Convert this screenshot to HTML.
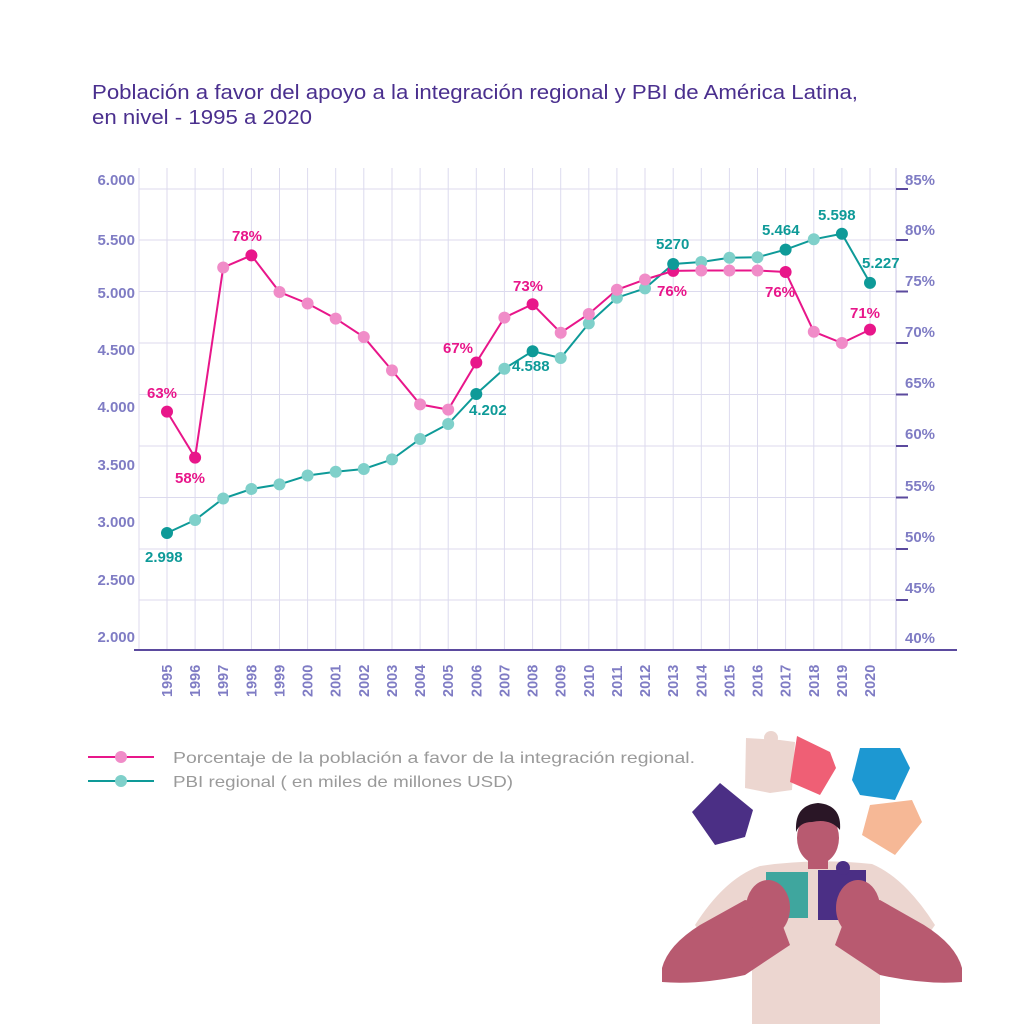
<!DOCTYPE html>
<html><head><meta charset="utf-8"><style>
html,body{margin:0;padding:0;background:#fff}
svg{display:block}
text{font-family:"Liberation Sans",sans-serif}
.yl{fill:#7f7cc4;font-size:15px;font-weight:bold}
.yr{fill:#7f7cc4;font-size:15px;font-weight:bold}
.xl{fill:#7f7cc4;font-size:14.5px;font-weight:bold}
.pk{fill:#e8168a;font-size:15px;font-weight:bold}
.tl{fill:#0e9a98;font-size:15px;font-weight:bold}
</style></head><body>
<svg width="1024" height="1024" viewBox="0 0 1024 1024" xmlns="http://www.w3.org/2000/svg">
<text x="92" y="99" font-size="20" fill="#4a2f8e" textLength="766" lengthAdjust="spacingAndGlyphs">Población a favor del apoyo a la integración regional y PBI de América Latina,</text>
<text x="92" y="124" font-size="20" fill="#4a2f8e" textLength="220" lengthAdjust="spacingAndGlyphs">en nivel - 1995 a 2020</text>

<g stroke="#dcdaee" stroke-width="1">
<line x1="139" y1="189" x2="896" y2="189"/><line x1="139" y1="240" x2="896" y2="240"/>
<line x1="139" y1="291.5" x2="896" y2="291.5"/><line x1="139" y1="343" x2="896" y2="343"/>
<line x1="139" y1="394.5" x2="896" y2="394.5"/><line x1="139" y1="446" x2="896" y2="446"/>
<line x1="139" y1="497.5" x2="896" y2="497.5"/><line x1="139" y1="549" x2="896" y2="549"/>
<line x1="139" y1="600" x2="896" y2="600"/>
<line x1="139" y1="168" x2="139" y2="650"/>
<line x1="167" y1="168" x2="167" y2="650"/><line x1="195.1" y1="168" x2="195.1" y2="650"/><line x1="223.2" y1="168" x2="223.2" y2="650"/><line x1="251.4" y1="168" x2="251.4" y2="650"/><line x1="279.5" y1="168" x2="279.5" y2="650"/><line x1="307.6" y1="168" x2="307.6" y2="650"/><line x1="335.7" y1="168" x2="335.7" y2="650"/><line x1="363.8" y1="168" x2="363.8" y2="650"/><line x1="392" y1="168" x2="392" y2="650"/><line x1="420.1" y1="168" x2="420.1" y2="650"/><line x1="448.2" y1="168" x2="448.2" y2="650"/><line x1="476.3" y1="168" x2="476.3" y2="650"/><line x1="504.4" y1="168" x2="504.4" y2="650"/><line x1="532.6" y1="168" x2="532.6" y2="650"/><line x1="560.7" y1="168" x2="560.7" y2="650"/><line x1="588.8" y1="168" x2="588.8" y2="650"/><line x1="616.9" y1="168" x2="616.9" y2="650"/><line x1="645" y1="168" x2="645" y2="650"/><line x1="673.2" y1="168" x2="673.2" y2="650"/><line x1="701.3" y1="168" x2="701.3" y2="650"/><line x1="729.4" y1="168" x2="729.4" y2="650"/><line x1="757.5" y1="168" x2="757.5" y2="650"/><line x1="785.6" y1="168" x2="785.6" y2="650"/><line x1="813.8" y1="168" x2="813.8" y2="650"/><line x1="841.9" y1="168" x2="841.9" y2="650"/><line x1="870" y1="168" x2="870" y2="650"/>
<line x1="896" y1="168" x2="896" y2="650" stroke="#c9c6e6"/>
</g>
<g stroke="#5b4a9e" stroke-width="2">
<line x1="896" y1="189" x2="908" y2="189"/><line x1="896" y1="240" x2="908" y2="240"/><line x1="896" y1="291.5" x2="908" y2="291.5"/><line x1="896" y1="343" x2="908" y2="343"/><line x1="896" y1="394.5" x2="908" y2="394.5"/><line x1="896" y1="446" x2="908" y2="446"/><line x1="896" y1="497.5" x2="908" y2="497.5"/><line x1="896" y1="549" x2="908" y2="549"/><line x1="896" y1="600" x2="908" y2="600"/>
<line x1="134" y1="650" x2="957" y2="650"/>
</g>

<g text-anchor="end">
<text x="135" y="185" class="yl">6.000</text><text x="135" y="245" class="yl">5.500</text><text x="135" y="298" class="yl">5.000</text><text x="135" y="355" class="yl">4.500</text><text x="135" y="412" class="yl">4.000</text><text x="135" y="470" class="yl">3.500</text><text x="135" y="527" class="yl">3.000</text><text x="135" y="585" class="yl">2.500</text><text x="135" y="642" class="yl">2.000</text>
</g>
<g>
<text x="905" y="185" class="yr">85%</text><text x="905" y="235" class="yr">80%</text><text x="905" y="286" class="yr">75%</text><text x="905" y="337" class="yr">70%</text><text x="905" y="388" class="yr">65%</text><text x="905" y="439" class="yr">60%</text><text x="905" y="491" class="yr">55%</text><text x="905" y="542" class="yr">50%</text><text x="905" y="593" class="yr">45%</text><text x="905" y="643" class="yr">40%</text>
</g>
<g class="xl">
<text transform="translate(172,697) rotate(-90)">1995</text><text transform="translate(200.1,697) rotate(-90)">1996</text><text transform="translate(228.2,697) rotate(-90)">1997</text><text transform="translate(256.4,697) rotate(-90)">1998</text><text transform="translate(284.5,697) rotate(-90)">1999</text><text transform="translate(312.6,697) rotate(-90)">2000</text><text transform="translate(340.7,697) rotate(-90)">2001</text><text transform="translate(368.8,697) rotate(-90)">2002</text><text transform="translate(397,697) rotate(-90)">2003</text><text transform="translate(425.1,697) rotate(-90)">2004</text><text transform="translate(453.2,697) rotate(-90)">2005</text><text transform="translate(481.3,697) rotate(-90)">2006</text><text transform="translate(509.4,697) rotate(-90)">2007</text><text transform="translate(537.6,697) rotate(-90)">2008</text><text transform="translate(565.7,697) rotate(-90)">2009</text><text transform="translate(593.8,697) rotate(-90)">2010</text><text transform="translate(621.9,697) rotate(-90)">2011</text><text transform="translate(650,697) rotate(-90)">2012</text><text transform="translate(678.2,697) rotate(-90)">2013</text><text transform="translate(706.3,697) rotate(-90)">2014</text><text transform="translate(734.4,697) rotate(-90)">2015</text><text transform="translate(762.5,697) rotate(-90)">2016</text><text transform="translate(790.6,697) rotate(-90)">2017</text><text transform="translate(818.8,697) rotate(-90)">2018</text><text transform="translate(846.9,697) rotate(-90)">2019</text><text transform="translate(875,697) rotate(-90)">2020</text>
</g>

<polyline fill="none" stroke="#0e9a98" stroke-width="2" points="167,533 195.1,520 223.2,498.5 251.4,489 279.5,484.4 307.6,475.5 335.7,471.7 363.8,469 392,459.4 420.1,439 448.2,424 476.3,394 504.4,368.7 532.6,351.2 560.7,358 588.8,323.4 616.9,297.7 645,288.4 673.2,264 701.3,262 729.4,257.8 757.5,257.2 785.6,249.6 813.8,239.3 841.9,233.8 870,282.9"/>
<polyline fill="none" stroke="#e8168a" stroke-width="2" points="167,411.6 195.1,457.6 223.2,267.5 251.4,255.4 279.5,292 307.6,303.5 335.7,318.6 363.8,337 392,370.4 420.1,404.4 448.2,409.6 476.3,362.5 504.4,317.6 532.6,304.2 560.7,332.7 588.8,314 616.9,289.8 645,279.5 673.2,270.9 701.3,270.5 729.4,270.5 757.5,270.5 785.6,272 813.8,331.7 841.9,343 870,329.6"/>
<g fill="#7fd0ca">
<circle cx="195.1" cy="520" r="6"/><circle cx="223.2" cy="498.5" r="6"/><circle cx="251.4" cy="489" r="6"/><circle cx="279.5" cy="484.4" r="6"/><circle cx="307.6" cy="475.5" r="6"/><circle cx="335.7" cy="471.7" r="6"/><circle cx="363.8" cy="469" r="6"/><circle cx="392" cy="459.4" r="6"/><circle cx="420.1" cy="439" r="6"/><circle cx="448.2" cy="424" r="6"/><circle cx="504.4" cy="368.7" r="6"/><circle cx="560.7" cy="358" r="6"/><circle cx="588.8" cy="323.4" r="6"/><circle cx="616.9" cy="297.7" r="6"/><circle cx="645" cy="288.4" r="6"/><circle cx="701.3" cy="262" r="6"/><circle cx="729.4" cy="257.8" r="6"/><circle cx="757.5" cy="257.2" r="6"/><circle cx="813.8" cy="239.3" r="6"/>
</g>
<g fill="#f08cc8">
<circle cx="223.2" cy="267.5" r="6"/><circle cx="279.5" cy="292" r="6"/><circle cx="307.6" cy="303.5" r="6"/><circle cx="335.7" cy="318.6" r="6"/><circle cx="363.8" cy="337" r="6"/><circle cx="392" cy="370.4" r="6"/><circle cx="420.1" cy="404.4" r="6"/><circle cx="448.2" cy="409.6" r="6"/><circle cx="504.4" cy="317.6" r="6"/><circle cx="560.7" cy="332.7" r="6"/><circle cx="588.8" cy="314" r="6"/><circle cx="616.9" cy="289.8" r="6"/><circle cx="645" cy="279.5" r="6"/><circle cx="701.3" cy="270.5" r="6"/><circle cx="729.4" cy="270.5" r="6"/><circle cx="757.5" cy="270.5" r="6"/><circle cx="813.8" cy="331.7" r="6"/><circle cx="841.9" cy="343" r="6"/>
</g>
<g fill="#e8168a">
<circle cx="167" cy="411.6" r="6"/><circle cx="195.1" cy="457.6" r="6"/><circle cx="251.4" cy="255.4" r="6"/><circle cx="476.3" cy="362.5" r="6"/><circle cx="532.6" cy="304.2" r="6"/><circle cx="673.2" cy="270.9" r="6"/><circle cx="785.6" cy="272" r="6"/><circle cx="870" cy="329.6" r="6"/>
</g>
<g fill="#0e9a98">
<circle cx="167" cy="533" r="6"/><circle cx="476.3" cy="394" r="6"/><circle cx="532.6" cy="351.2" r="6"/><circle cx="673.2" cy="264" r="6"/><circle cx="785.6" cy="249.6" r="6"/><circle cx="841.9" cy="233.8" r="6"/><circle cx="870" cy="282.9" r="6"/>
</g>
<text x="147" y="398" class="pk">63%</text>
<text x="175" y="483" class="pk">58%</text>
<text x="232" y="241" class="pk">78%</text>
<text x="443" y="353" class="pk">67%</text>
<text x="513" y="291" class="pk">73%</text>
<text x="657" y="296" class="pk">76%</text>
<text x="765" y="297" class="pk">76%</text>
<text x="850" y="318" class="pk">71%</text>
<text x="145" y="562" class="tl">2.998</text>
<text x="469" y="415" class="tl">4.202</text>
<text x="512" y="371" class="tl">4.588</text>
<text x="656" y="249" class="tl">5270</text>
<text x="762" y="235" class="tl">5.464</text>
<text x="818" y="220" class="tl">5.598</text>
<text x="862" y="268" class="tl">5.227</text>

<line x1="88" y1="757" x2="154" y2="757" stroke="#e8168a" stroke-width="2"/><circle cx="121" cy="757" r="6" fill="#f08cc8"/>
<line x1="88" y1="781" x2="154" y2="781" stroke="#0e9a98" stroke-width="2"/><circle cx="121" cy="781" r="6" fill="#7fd0ca"/>
<text x="173" y="763" font-size="16" fill="#9a9a9a" textLength="522" lengthAdjust="spacingAndGlyphs">Porcentaje de la población a favor de la integración regional.</text>
<text x="173" y="787" font-size="16" fill="#9a9a9a" textLength="340" lengthAdjust="spacingAndGlyphs">PBI regional ( en miles de millones USD)</text>

<g>
<polygon points="746,738 780,740 795,742 792,790 770,793 745,788" fill="#ecd6d0"/>
<circle cx="771" cy="738" r="7" fill="#ecd6d0"/>
<polygon points="797,736 830,752 836,768 820,795 790,782" fill="#ef5f75"/>
<polygon points="860,748 900,748 910,768 895,800 860,795 852,780" fill="#1d98d2"/>
<polygon points="870,805 912,800 922,822 895,855 862,835" fill="#f6b896"/>
<polygon points="720,783 753,810 745,837 715,845 692,812" fill="#4b2f85"/>
<!-- shirt -->
<path d="M760,866 Q815,858 872,864 Q905,878 935,925 L900,975 L880,965 L880,1024 L752,1024 L752,965 L730,975 L695,925 Q725,878 760,866 Z" fill="#ecd6d0"/>
<!-- arms -->
<path d="M662,968 Q668,945 700,925 L745,900 L775,905 L790,945 L745,975 Q700,985 662,982 Z" fill="#b85a70"/>
<path d="M962,968 Q956,945 924,925 L880,900 L850,905 L835,945 L880,975 Q925,985 962,982 Z" fill="#b85a70"/>
<rect x="808" y="855" width="20" height="14" fill="#b85a70"/>
<ellipse cx="818" cy="838" rx="21" ry="26" fill="#b85a70"/>
<path d="M796,830 Q795,805 818,803 Q842,805 840,830 Q830,818 812,822 Q800,822 796,832 Z" fill="#2a1626"/>
<rect x="766" y="872" width="42" height="46" fill="#3fa69e"/>
<rect x="818" y="870" width="48" height="50" fill="#4b2f85"/>
<circle cx="843" cy="868" r="7" fill="#4b2f85"/>
<ellipse cx="768" cy="908" rx="22" ry="28" fill="#b85a70"/>
<ellipse cx="858" cy="908" rx="22" ry="28" fill="#b85a70"/>
</g>
</svg>
</body></html>
